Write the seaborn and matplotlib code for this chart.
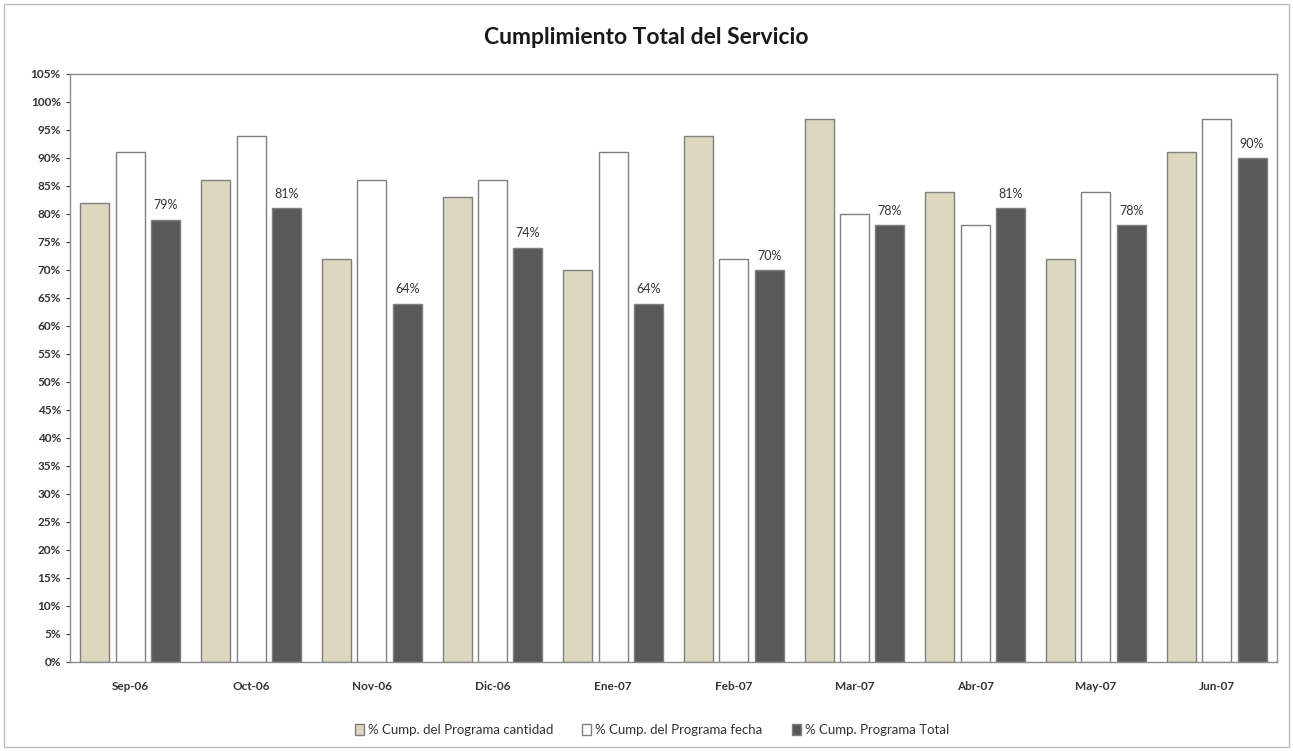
import matplotlib
matplotlib.use("Agg")
import matplotlib.pyplot as plt
import seaborn as sns
import pandas as pd
from matplotlib.ticker import MultipleLocator, FuncFormatter
from matplotlib.patches import Rectangle

months = ["Sep-06", "Oct-06", "Nov-06", "Dic-06", "Ene-07", "Feb-07", "Mar-07", "Abr-07", "May-07", "Jun-07"]
series_names = ["% Cump. del Programa cantidad", "% Cump. del Programa fecha", "% Cump. Programa Total"]
cantidad = [82, 86, 72, 83, 70, 94, 97, 84, 72, 91]
fecha = [91, 94, 86, 86, 91, 72, 80, 78, 84, 97]
total = [79, 81, 64, 74, 64, 70, 78, 81, 78, 90]

rows = []
for name, vals in zip(series_names, [cantidad, fecha, total]):
    for m, v in zip(months, vals):
        rows.append({"Mes": m, "Serie": name, "Valor": v})
df = pd.DataFrame(rows)

sns.set_theme(style="white")
plt.rcParams['font.family'] = ['Lato', 'DejaVu Sans']

fig = plt.figure(figsize=(12.93, 7.51), dpi=100)
ax = fig.add_axes([70/1293, 1 - 662/751, 1207/1293, 588/751])

palette = {series_names[0]: "#DDD7BF", series_names[1]: "#FFFFFF", series_names[2]: "#595959"}
sns.barplot(data=df, x="Mes", y="Valor", hue="Serie", order=months, hue_order=series_names,
            palette=palette, width=0.88, gap=0.18, edgecolor="#7F7F7F", linewidth=1.0,
            saturation=1, ax=ax, legend=True)

# labels for total series
cont = ax.containers[2]
ax.bar_label(cont, labels=[f"{v}%" for v in total], padding=6, fontsize=9, color="#333333")

ax.set_ylim(0, 105)
ax.set_xlim(-0.5, len(months) - 0.5)
ax.yaxis.set_major_locator(MultipleLocator(5))
ax.yaxis.set_major_formatter(FuncFormatter(lambda v, p: f"{int(round(v))}%"))
ax.set_xlabel("")
ax.set_ylabel("")
ax.tick_params(axis="y", labelsize=8.5, length=3, colors="#333333", left=True, width=0.8)
ax.tick_params(axis="x", labelsize=8.5, length=0, pad=14, colors="#333333")
for lab in ax.get_xticklabels() + ax.get_yticklabels():
    lab.set_fontweight("bold")
    lab.set_color("#333333")
for s in ax.spines.values():
    s.set_color("#8C8C8C")
    s.set_linewidth(1.0)

leg = ax.legend(loc="upper center", bbox_to_anchor=(0.482, -0.085), ncol=3, frameon=False,
                fontsize=9.5, handlelength=0.7, handleheight=0.9, columnspacing=2.2, handletextpad=0.3)
for t in leg.get_texts():
    t.set_color("#333333")

fig.text(0.5, 1 - 38/751, "Cumplimiento Total del Servicio", ha="center", va="center",
         fontsize=16.5, fontweight="bold", color="#1a1a1a")

fig.patches.append(Rectangle((4/1293, 4/751), 1 - 8/1293, 1 - 8/751, transform=fig.transFigure,
                             fill=False, edgecolor="#BFBFBF", linewidth=1.0))

fig.savefig("out.png", dpi=100)
